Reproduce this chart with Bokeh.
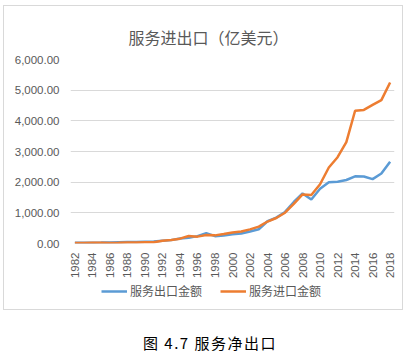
import math
from bokeh.plotting import figure
from bokeh.layouts import column, row
from bokeh.models import (ColumnDataSource, FixedTicker, NumeralTickFormatter, Legend,
                          LegendItem, Div, Range1d, Title, Spacer)
from bokeh.embed import file_html
from bokeh.resources import INLINE

years = list(range(1982, 2019))
exports = [25, 25, 28, 29, 36, 42, 47, 45, 57, 69, 91, 110, 164, 184, 240, 340, 239, 262,
           301, 329, 394, 464, 725, 843, 1029, 1353, 1633, 1436, 1783, 2000, 2016, 2070,
           2191, 2186, 2100, 2281, 2668]
imports = [19, 18, 26, 23, 20, 22, 33, 36, 41, 39, 92, 116, 158, 246, 224, 277, 265, 310,
           359, 390, 461, 549, 716, 832, 1003, 1293, 1600, 1581, 1933, 2478, 2813, 3306,
           4329, 4355, 4521, 4676, 5250]
x_ticks = list(range(1982, 2019, 2))
y_ticks = [0, 1000, 2000, 3000, 4000, 5000, 6000]

title_text = "服务进出口（亿美元）"
caption_text = "图 4.7 服务净出口"
series_names = ["服务出口金额", "服务进口金额"]
colors = ["#5b9bd5", "#ed7d31"]

src = ColumnDataSource(dict(year=years, exports=exports, imports=imports))

grey = "#595959"
font = "Noto Sans CJK SC"

# main chart
p = figure(frame_width=324, frame_height=184,
           output_backend="svg", toolbar_location=None,
           x_range=Range1d(1981.5, 2018.5), y_range=Range1d(0, 6000),
           min_border_left=66, min_border_right=8, min_border_top=53,
           min_border_bottom=34)
p.outline_line_color = None
p.background_fill_color = "white"
p.border_fill_color = "white"

t = Title(text=title_text, align="left", offset=58, text_font=font,
          text_font_size="16px", text_color=grey, text_font_style="normal", standoff=21)
p.add_layout(t, "above")

p.xaxis.ticker = FixedTicker(ticks=x_ticks)
p.yaxis.ticker = FixedTicker(ticks=y_ticks)
p.yaxis.formatter = NumeralTickFormatter(format="0,0.00")
for ax in (p.xaxis[0], p.yaxis[0]):
    ax.axis_line_color = None
    ax.major_tick_line_color = None
    ax.minor_tick_line_color = None
    ax.major_tick_out = 0
    ax.major_tick_in = 0
    ax.minor_tick_out = 0
    ax.major_label_text_color = grey
    ax.major_label_text_font = "Liberation Sans"
    ax.major_label_text_font_size = "11.5px"
p.xaxis.major_label_orientation = math.pi / 2
p.xaxis.major_label_standoff = 9
p.yaxis.major_label_standoff = 11
p.xgrid.grid_line_color = None
p.ygrid.grid_line_color = "#d9d9d9"
p.ygrid.grid_line_width = 1

p.line("year", "exports", source=src, line_color=colors[0], line_width=2.5)
p.line("year", "imports", source=src, line_color=colors[1], line_width=2.5)

# legend strip (its lines use the same data, outside the strip's view)
lg = figure(frame_width=398, frame_height=28, output_backend="svg", toolbar_location=None,
            x_range=Range1d(0, 1), y_range=Range1d(0, 1),
            x_axis_location=None, y_axis_location=None,
            min_border_left=0, min_border_right=0, min_border_top=0, min_border_bottom=0)
lg.outline_line_color = None
lg.grid.visible = False
lg.border_fill_color = "white"
l1 = lg.line("year", "exports", source=src, line_color=colors[0], line_width=2.5)
l2 = lg.line("year", "imports", source=src, line_color=colors[1], line_width=2.5)
legend = Legend(items=[LegendItem(label=series_names[0], renderers=[l1]),
                       LegendItem(label=series_names[1], renderers=[l2])],
                orientation="horizontal", location=(97, 10),
                label_text_font=font, label_text_font_size="12px",
                label_text_color=grey, glyph_width=26, glyph_height=14,
                label_standoff=3, spacing=18, padding=0, margin=0,
                border_line_color=None, background_fill_alpha=0)
lg.add_layout(legend, "center")

inner = column(p, lg, spacing=0, styles={"border": "1px solid #d9d9d9"})

cap = Div(text=caption_text, width=404, margin=(22, 0, 0, 0),
          styles={"text-align": "center", "font-family": font, "font-size": "15px",
                  "color": "black", "letter-spacing": "1.5px", "width": "404px",
                  "text-indent": "16px"})

layout = column(Spacer(height=5), row(Spacer(width=3), inner, spacing=0), cap, spacing=0)
open("out.html", "w").write(file_html(layout, INLINE))
